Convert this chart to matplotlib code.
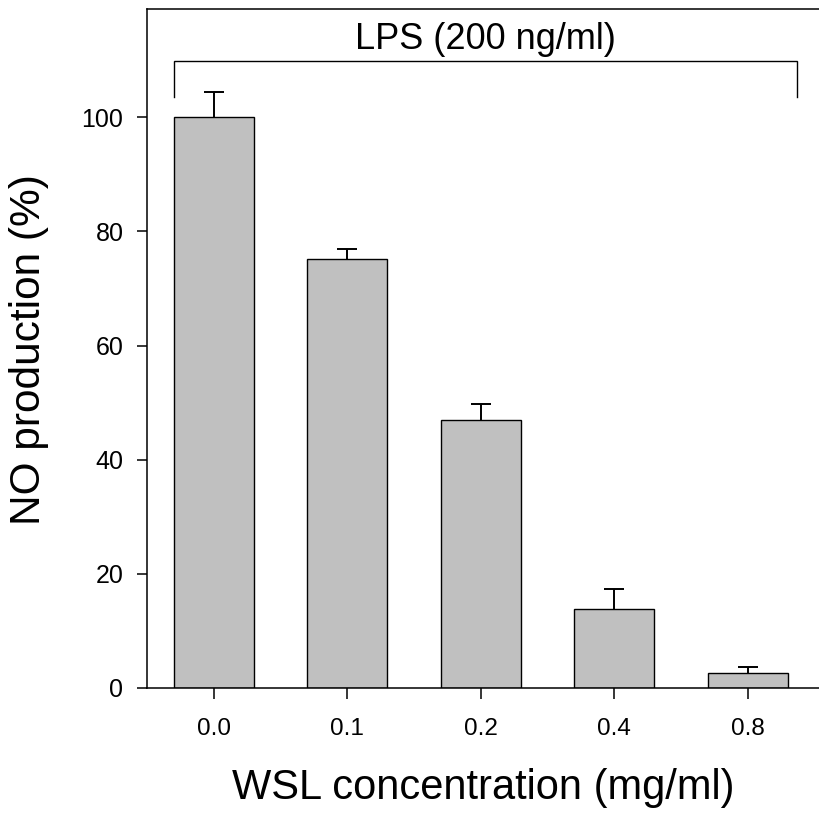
import numpy as np
import matplotlib.pyplot as plt

plt.rcParams['font.family'] = ['Liberation Sans', 'DejaVu Sans']

# data
conc_labels = ['0.0', '0.1', '0.2', '0.4', '0.8']
no_prod = [100.0, 75.1, 46.9, 13.9, 2.6]
no_err = [4.5, 1.8, 2.8, 3.5, 1.1]

fig = plt.figure(figsize=(8.19, 8.16), dpi=100)
ax = fig.add_axes([0.1795, 0.157, 0.8205, 0.832])

x = np.arange(len(conc_labels))
ax.bar(x, no_prod, width=0.6, color='#c0c0c0', edgecolor='black', linewidth=1.0, zorder=2)
eb = ax.errorbar(x, no_prod, yerr=[np.zeros(len(no_err)), no_err], fmt='none',
                 ecolor='black', elinewidth=1.4, capsize=7, capthick=1.4, zorder=3)
# only the upper cap, like the original
eb[1][0].set_visible(False)

ax.set_xlim(-0.5, 4.534)
ax.set_ylim(0, 119)
ax.set_yticks([0, 20, 40, 60, 80, 100])
ax.set_xticks(x)
ax.set_xticklabels(conc_labels)

ax.spines['right'].set_visible(False)
for s in ['left', 'bottom', 'top']:
    ax.spines[s].set_linewidth(1.1)
ax.tick_params(axis='y', direction='out', length=7, width=1.1, labelsize=18, pad=10)
ax.tick_params(axis='x', direction='out', length=8, width=1.1, labelsize=17.5, pad=14)

ax.set_ylabel('NO production (%)', fontsize=30.5)
ax.set_xlabel('WSL concentration (mg/ml)', fontsize=30, labelpad=20)
ax.yaxis.set_label_coords(-0.146, 0.499)

# LPS bracket
bx0, bx1 = -0.3, 4.37
ax.plot([bx0, bx0, bx1, bx1], [103.5, 109.8, 109.8, 103.5], color='black',
        linewidth=1.0, solid_joinstyle='miter', clip_on=False)
ax.text((bx0 + bx1) / 2, 110.5, 'LPS (200 ng/ml)', ha='center', va='bottom', fontsize=26)

fig.savefig('out.png', dpi=100)
